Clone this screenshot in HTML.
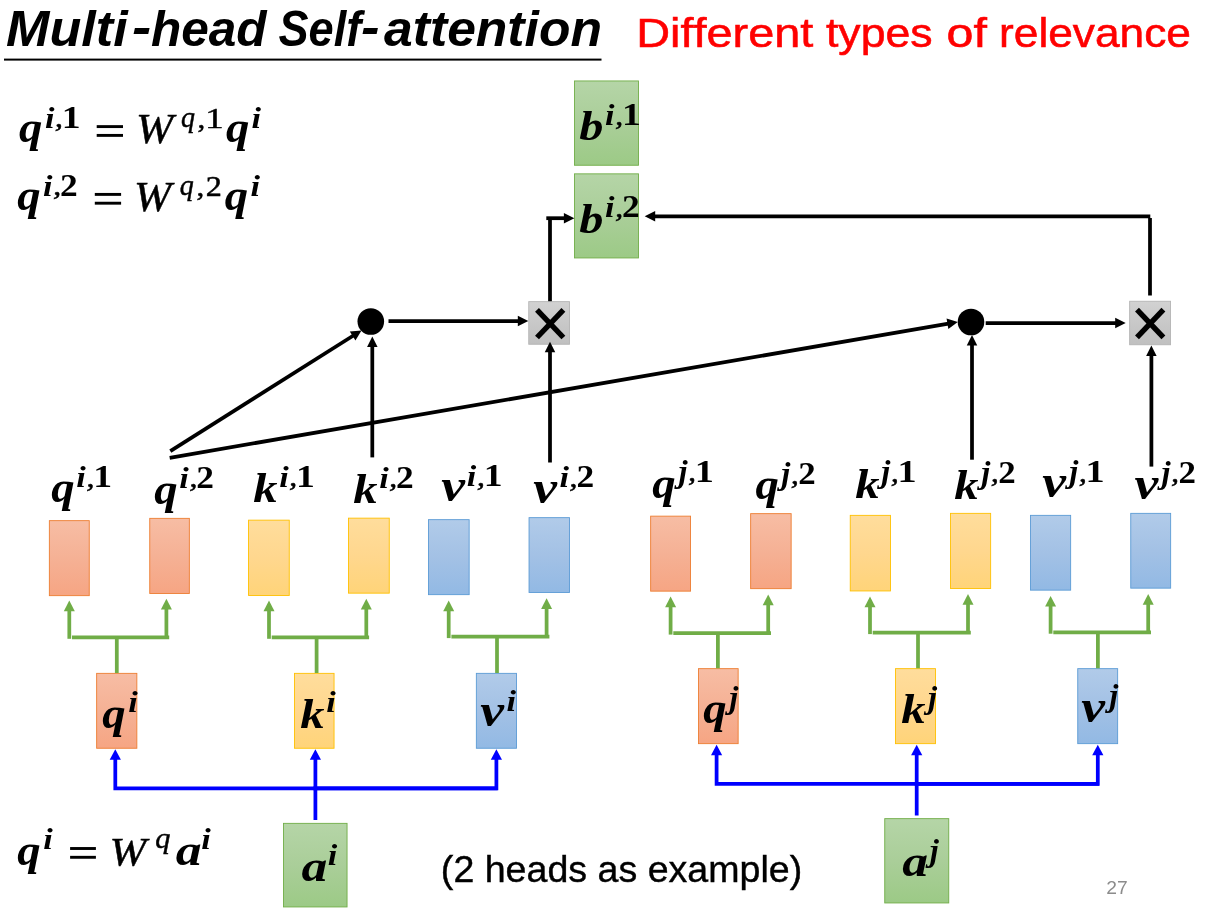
<!DOCTYPE html>
<html><head><meta charset="utf-8"><title>Multi-head Self-attention</title>
<style>html,body{margin:0;padding:0;background:#fff;}svg{display:block;will-change:transform;}text{font-kerning:none;}</style></head>
<body><svg width="1205" height="915" viewBox="0 0 1205 915">
<rect width="1205" height="915" fill="#fff"/>
<defs>
<linearGradient id="gO" x1="0" y1="0" x2="0" y2="1"><stop offset="0" stop-color="#f7bda4"/><stop offset=".5" stop-color="#f5b195"/><stop offset="1" stop-color="#f6a583"/></linearGradient>
<linearGradient id="gY" x1="0" y1="0" x2="0" y2="1"><stop offset="0" stop-color="#ffdd9c"/><stop offset=".5" stop-color="#ffd78e"/><stop offset="1" stop-color="#ffd479"/></linearGradient>
<linearGradient id="gB" x1="0" y1="0" x2="0" y2="1"><stop offset="0" stop-color="#b1cbe9"/><stop offset=".5" stop-color="#a3c1e5"/><stop offset="1" stop-color="#92b9e4"/></linearGradient>
<linearGradient id="gG" x1="0" y1="0" x2="0" y2="1"><stop offset="0" stop-color="#b5d5a7"/><stop offset=".5" stop-color="#aace99"/><stop offset="1" stop-color="#9cca86"/></linearGradient>
<linearGradient id="gS" x1="0" y1="0" x2="0" y2="1"><stop offset="0" stop-color="#d2d2d2"/><stop offset=".5" stop-color="#c8c8c8"/><stop offset="1" stop-color="#c0c0c0"/></linearGradient>
</defs>
<text transform="translate(6.08,45.80) scale(1.0555,1)" font-family="Liberation Sans" font-size="49.40" font-weight="bold" font-style="italic" fill="#000" style="white-space:pre">Multi</text>
<text transform="translate(132.12,43.70) scale(1.1699,1)" font-family="Liberation Sans" font-size="49.40" font-weight="bold" font-style="italic" fill="#000" style="white-space:pre">-</text>
<text transform="translate(150.95,45.80) scale(1.0035,1)" font-family="Liberation Sans" font-size="49.40" font-weight="bold" font-style="italic" fill="#000" style="white-space:pre">head</text>
<text transform="translate(278.45,45.80) scale(0.9137,1)" font-family="Liberation Sans" font-size="49.40" font-weight="bold" font-style="italic" fill="#000" style="white-space:pre">Self</text>
<text transform="translate(361.08,43.70) scale(1.1260,1)" font-family="Liberation Sans" font-size="49.40" font-weight="bold" font-style="italic" fill="#000" style="white-space:pre">-</text>
<text transform="translate(384.05,45.80) scale(1.0449,1)" font-family="Liberation Sans" font-size="49.40" font-weight="bold" font-style="italic" fill="#000" style="white-space:pre">attention</text>
<rect x="4" y="58.6" width="597.5" height="2" fill="#000"/>
<text transform="translate(636.15,46.60) scale(1.1491,1)" font-family="Liberation Sans" font-size="40.80" fill="#ff0000" stroke="#ff0000" stroke-width="0.55" style="white-space:pre">Different</text>
<text transform="translate(825.92,46.60) scale(1.0940,1)" font-family="Liberation Sans" font-size="40.80" fill="#ff0000" stroke="#ff0000" stroke-width="0.55" style="white-space:pre">types</text>
<text transform="translate(946.57,46.60) scale(1.1862,1)" font-family="Liberation Sans" font-size="40.80" fill="#ff0000" stroke="#ff0000" stroke-width="0.55" style="white-space:pre">of</text>
<text transform="translate(999.06,46.60) scale(1.0848,1)" font-family="Liberation Sans" font-size="40.80" fill="#ff0000" stroke="#ff0000" stroke-width="0.55" style="white-space:pre">relevance</text>
<rect x="574.45" y="80.95" width="64.10" height="84.30" fill="url(#gG)" stroke="#70ad47" stroke-width="0.9"/>
<rect x="574.45" y="173.85" width="64.10" height="84.10" fill="url(#gG)" stroke="#70ad47" stroke-width="0.9"/>
<rect x="528.75" y="301.65" width="40.80" height="42.60" fill="url(#gS)" stroke="#b4b4b4" stroke-width="0.9"/>
<rect x="1129.65" y="301.25" width="40.90" height="43.50" fill="url(#gS)" stroke="#b4b4b4" stroke-width="0.9"/>
<rect x="49.35" y="520.65" width="39.90" height="75.00" fill="url(#gO)" stroke="#ed7d31" stroke-width="0.9"/>
<rect x="149.75" y="518.35" width="39.60" height="75.10" fill="url(#gO)" stroke="#ed7d31" stroke-width="0.9"/>
<rect x="248.55" y="520.15" width="40.70" height="75.30" fill="url(#gY)" stroke="#ffc000" stroke-width="0.9"/>
<rect x="348.55" y="518.15" width="40.70" height="75.00" fill="url(#gY)" stroke="#ffc000" stroke-width="0.9"/>
<rect x="428.45" y="519.65" width="40.70" height="75.00" fill="url(#gB)" stroke="#5b9bd5" stroke-width="0.9"/>
<rect x="529.05" y="517.65" width="40.50" height="74.80" fill="url(#gB)" stroke="#5b9bd5" stroke-width="0.9"/>
<rect x="650.65" y="516.15" width="39.90" height="75.00" fill="url(#gO)" stroke="#ed7d31" stroke-width="0.9"/>
<rect x="750.65" y="513.65" width="40.50" height="75.00" fill="url(#gO)" stroke="#ed7d31" stroke-width="0.9"/>
<rect x="850.25" y="515.35" width="40.20" height="75.60" fill="url(#gY)" stroke="#ffc000" stroke-width="0.9"/>
<rect x="950.55" y="513.35" width="40.10" height="75.10" fill="url(#gY)" stroke="#ffc000" stroke-width="0.9"/>
<rect x="1030.45" y="515.35" width="40.20" height="74.80" fill="url(#gB)" stroke="#5b9bd5" stroke-width="0.9"/>
<rect x="1130.75" y="513.35" width="39.90" height="74.80" fill="url(#gB)" stroke="#5b9bd5" stroke-width="0.9"/>
<rect x="96.65" y="673.35" width="40.20" height="74.90" fill="url(#gO)" stroke="#ed7d31" stroke-width="0.9"/>
<rect x="294.45" y="673.35" width="39.60" height="74.90" fill="url(#gY)" stroke="#ffc000" stroke-width="0.9"/>
<rect x="476.35" y="673.35" width="40.20" height="74.90" fill="url(#gB)" stroke="#5b9bd5" stroke-width="0.9"/>
<rect x="698.55" y="668.65" width="39.60" height="75.00" fill="url(#gO)" stroke="#ed7d31" stroke-width="0.9"/>
<rect x="895.45" y="668.65" width="40.00" height="75.00" fill="url(#gY)" stroke="#ffc000" stroke-width="0.9"/>
<rect x="1077.75" y="668.65" width="39.90" height="75.00" fill="url(#gB)" stroke="#5b9bd5" stroke-width="0.9"/>
<rect x="283.45" y="823.35" width="63.60" height="83.60" fill="url(#gG)" stroke="#70ad47" stroke-width="0.9"/>
<rect x="884.75" y="818.65" width="64.00" height="84.30" fill="url(#gG)" stroke="#70ad47" stroke-width="0.9"/>
<path d="M69.30,638.80 L69.30,610.30" fill="none" stroke="#70ad47" stroke-width="3.75" stroke-linecap="butt" stroke-linejoin="miter"/>
<polygon points="69.30,600.60 74.80,611.30 63.80,611.30" fill="#70ad47"/>
<path d="M166.40,636.40 L166.40,608.50" fill="none" stroke="#70ad47" stroke-width="3.75" stroke-linecap="butt" stroke-linejoin="miter"/>
<polygon points="166.40,598.80 171.90,609.50 160.90,609.50" fill="#70ad47"/>
<path d="M72.00,637.40 L169.20,637.40" fill="none" stroke="#70ad47" stroke-width="3.75" stroke-linecap="butt" stroke-linejoin="miter"/>
<path d="M116.80,637.40 L116.80,673.00" fill="none" stroke="#70ad47" stroke-width="3.75" stroke-linecap="butt" stroke-linejoin="miter"/>
<path d="M269.00,638.80 L269.00,610.30" fill="none" stroke="#70ad47" stroke-width="3.75" stroke-linecap="butt" stroke-linejoin="miter"/>
<polygon points="269.00,600.60 274.50,611.30 263.50,611.30" fill="#70ad47"/>
<path d="M366.30,636.40 L366.30,608.50" fill="none" stroke="#70ad47" stroke-width="3.75" stroke-linecap="butt" stroke-linejoin="miter"/>
<polygon points="366.30,598.80 371.80,609.50 360.80,609.50" fill="#70ad47"/>
<path d="M271.70,637.40 L369.10,637.40" fill="none" stroke="#70ad47" stroke-width="3.75" stroke-linecap="butt" stroke-linejoin="miter"/>
<path d="M316.60,637.40 L316.60,673.00" fill="none" stroke="#70ad47" stroke-width="3.75" stroke-linecap="butt" stroke-linejoin="miter"/>
<path d="M448.70,638.10 L448.70,610.30" fill="none" stroke="#70ad47" stroke-width="3.75" stroke-linecap="butt" stroke-linejoin="miter"/>
<polygon points="448.70,600.60 454.20,611.30 443.20,611.30" fill="#70ad47"/>
<path d="M546.60,635.70 L546.60,608.00" fill="none" stroke="#70ad47" stroke-width="3.75" stroke-linecap="butt" stroke-linejoin="miter"/>
<polygon points="546.60,598.30 552.10,609.00 541.10,609.00" fill="#70ad47"/>
<path d="M451.40,636.70 L549.40,636.70" fill="none" stroke="#70ad47" stroke-width="3.75" stroke-linecap="butt" stroke-linejoin="miter"/>
<path d="M497.00,636.70 L497.00,673.00" fill="none" stroke="#70ad47" stroke-width="3.75" stroke-linecap="butt" stroke-linejoin="miter"/>
<path d="M670.60,634.60 L670.60,606.30" fill="none" stroke="#70ad47" stroke-width="3.75" stroke-linecap="butt" stroke-linejoin="miter"/>
<polygon points="670.60,596.60 676.10,607.30 665.10,607.30" fill="#70ad47"/>
<path d="M768.20,632.20 L768.20,604.30" fill="none" stroke="#70ad47" stroke-width="3.75" stroke-linecap="butt" stroke-linejoin="miter"/>
<polygon points="768.20,594.60 773.70,605.30 762.70,605.30" fill="#70ad47"/>
<path d="M673.30,633.20 L771.00,633.20" fill="none" stroke="#70ad47" stroke-width="3.75" stroke-linecap="butt" stroke-linejoin="miter"/>
<path d="M717.90,633.20 L717.90,668.30" fill="none" stroke="#70ad47" stroke-width="3.75" stroke-linecap="butt" stroke-linejoin="miter"/>
<path d="M870.00,634.10 L870.00,606.30" fill="none" stroke="#70ad47" stroke-width="3.75" stroke-linecap="butt" stroke-linejoin="miter"/>
<polygon points="870.00,596.60 875.50,607.30 864.50,607.30" fill="#70ad47"/>
<path d="M968.00,631.70 L968.00,603.80" fill="none" stroke="#70ad47" stroke-width="3.75" stroke-linecap="butt" stroke-linejoin="miter"/>
<polygon points="968.00,594.10 973.50,604.80 962.50,604.80" fill="#70ad47"/>
<path d="M872.70,632.70 L970.80,632.70" fill="none" stroke="#70ad47" stroke-width="3.75" stroke-linecap="butt" stroke-linejoin="miter"/>
<path d="M918.00,632.70 L918.00,668.30" fill="none" stroke="#70ad47" stroke-width="3.75" stroke-linecap="butt" stroke-linejoin="miter"/>
<path d="M1050.60,633.70 L1050.60,605.60" fill="none" stroke="#70ad47" stroke-width="3.75" stroke-linecap="butt" stroke-linejoin="miter"/>
<polygon points="1050.60,595.90 1056.10,606.60 1045.10,606.60" fill="#70ad47"/>
<path d="M1148.20,631.30 L1148.20,603.80" fill="none" stroke="#70ad47" stroke-width="3.75" stroke-linecap="butt" stroke-linejoin="miter"/>
<polygon points="1148.20,594.10 1153.70,604.80 1142.70,604.80" fill="#70ad47"/>
<path d="M1053.30,632.30 L1151.00,632.30" fill="none" stroke="#70ad47" stroke-width="3.75" stroke-linecap="butt" stroke-linejoin="miter"/>
<path d="M1097.90,632.30 L1097.90,668.30" fill="none" stroke="#70ad47" stroke-width="3.75" stroke-linecap="butt" stroke-linejoin="miter"/>
<path d="M315.40,820.00 L315.40,758.80" fill="none" stroke="#0000ff" stroke-width="3.75" stroke-linecap="butt" stroke-linejoin="miter"/>
<polygon points="315.40,749.30 321.00,759.80 309.80,759.80" fill="#0000ff"/>
<path d="M497.50,788.40 L115.30,788.40 L115.30,758.80" fill="none" stroke="#0000ff" stroke-width="3.75" stroke-linecap="butt" stroke-linejoin="miter"/>
<polygon points="115.30,749.30 120.90,759.80 109.70,759.80" fill="#0000ff"/>
<path d="M313.40,788.40 L496.40,788.40 L496.40,758.80" fill="none" stroke="#0000ff" stroke-width="3.75" stroke-linecap="butt" stroke-linejoin="miter"/>
<polygon points="496.40,749.30 502.00,759.80 490.80,759.80" fill="#0000ff"/>
<path d="M916.70,815.50 L916.70,754.20" fill="none" stroke="#0000ff" stroke-width="3.75" stroke-linecap="butt" stroke-linejoin="miter"/>
<polygon points="916.70,744.70 922.30,755.20 911.10,755.20" fill="#0000ff"/>
<path d="M1099.00,783.80 L716.60,783.80 L716.60,754.20" fill="none" stroke="#0000ff" stroke-width="3.75" stroke-linecap="butt" stroke-linejoin="miter"/>
<polygon points="716.60,744.70 722.20,755.20 711.00,755.20" fill="#0000ff"/>
<path d="M914.70,783.80 L1097.80,783.80 L1097.80,754.20" fill="none" stroke="#0000ff" stroke-width="3.75" stroke-linecap="butt" stroke-linejoin="miter"/>
<polygon points="1097.80,744.70 1103.40,755.20 1092.20,755.20" fill="#0000ff"/>
<circle cx="370.8" cy="321.5" r="13.3" fill="#000"/><circle cx="971" cy="322" r="13.3" fill="#000"/>
<path d="M388.50,321.00 L518.80,321.00" fill="none" stroke="#000" stroke-width="3.75" stroke-linecap="butt" stroke-linejoin="miter"/>
<polygon points="528.30,321.00 517.80,326.25 517.80,315.75" fill="#000"/>
<path d="M985.70,323.00 L1116.20,323.00" fill="none" stroke="#000" stroke-width="3.75" stroke-linecap="butt" stroke-linejoin="miter"/>
<polygon points="1125.70,323.00 1115.20,328.25 1115.20,317.75" fill="#000"/>
<path d="M372.30,457.40 L372.30,345.90" fill="none" stroke="#000" stroke-width="3.75" stroke-linecap="butt" stroke-linejoin="miter"/>
<polygon points="372.30,336.40 377.55,346.90 367.05,346.90" fill="#000"/>
<path d="M972.00,459.70 L972.00,344.50" fill="none" stroke="#000" stroke-width="3.75" stroke-linecap="butt" stroke-linejoin="miter"/>
<polygon points="972.00,335.00 977.25,345.50 966.75,345.50" fill="#000"/>
<path d="M550.00,462.50 L550.00,351.30" fill="none" stroke="#000" stroke-width="3.75" stroke-linecap="butt" stroke-linejoin="miter"/>
<polygon points="550.00,341.80 555.25,352.30 544.75,352.30" fill="#000"/>
<path d="M1151.40,466.60 L1151.40,355.10" fill="none" stroke="#000" stroke-width="3.75" stroke-linecap="butt" stroke-linejoin="miter"/>
<polygon points="1151.40,345.60 1156.65,356.10 1146.15,356.10" fill="#000"/>
<path d="M170.30,451.20 L353.47,335.47" fill="none" stroke="#000" stroke-width="3.75" stroke-linecap="butt" stroke-linejoin="miter"/>
<polygon points="361.50,330.40 355.43,340.45 349.82,331.57" fill="#000"/>
<path d="M169.70,457.80 L948.44,323.61" fill="none" stroke="#000" stroke-width="3.75" stroke-linecap="butt" stroke-linejoin="miter"/>
<polygon points="957.80,322.00 948.34,328.96 946.56,318.61" fill="#000"/>
<path d="M550.00,301.20 L550.00,218.20" fill="none" stroke="#000" stroke-width="3.75" stroke-linecap="butt" stroke-linejoin="miter"/>
<path d="M546.30,218.20 L564.90,218.20" fill="none" stroke="#000" stroke-width="3.75" stroke-linecap="butt" stroke-linejoin="miter"/>
<polygon points="574.40,218.20 563.90,223.45 563.90,212.95" fill="#000"/>
<path d="M1150.00,295.50 L1150.00,218.00" fill="none" stroke="#000" stroke-width="3.75" stroke-linecap="butt" stroke-linejoin="miter"/>
<path d="M1150.30,216.30 L654.20,216.30" fill="none" stroke="#000" stroke-width="3.75" stroke-linecap="butt" stroke-linejoin="miter"/>
<polygon points="644.70,216.30 655.20,211.05 655.20,221.55" fill="#000"/>
<path d="M537.00,309.90 L563.40,337.50" fill="none" stroke="#000" stroke-width="5.4" stroke-linecap="butt" stroke-linejoin="miter"/>
<path d="M563.40,309.90 L537.00,337.50" fill="none" stroke="#000" stroke-width="5.4" stroke-linecap="butt" stroke-linejoin="miter"/>
<path d="M1137.00,309.70 L1163.40,337.30" fill="none" stroke="#000" stroke-width="5.4" stroke-linecap="butt" stroke-linejoin="miter"/>
<path d="M1163.40,309.70 L1137.00,337.30" fill="none" stroke="#000" stroke-width="5.4" stroke-linecap="butt" stroke-linejoin="miter"/>
<text transform="translate(51.31,501.85) scale(1.0420,1)" font-family="Liberation Serif" font-size="44.88" font-weight="bold" font-style="italic" fill="#000">q</text>
<text transform="translate(76.33,487.00) scale(1.1322,1)" font-family="Liberation Serif" font-size="30.27" font-weight="bold" font-style="italic" fill="#000">i</text>
<text transform="translate(86.20,486.59) scale(1.1828,1)" font-family="Liberation Serif" font-size="28.03" font-style="italic" fill="#000" stroke="#000" stroke-width="0.50">,</text>
<text transform="translate(93.18,487.00) scale(1.1869,1)" font-family="Liberation Serif" font-size="31.81" font-weight="bold" fill="#000">1</text>
<text transform="translate(154.21,503.95) scale(1.0420,1)" font-family="Liberation Serif" font-size="44.88" font-weight="bold" font-style="italic" fill="#000">q</text>
<text transform="translate(179.33,487.90) scale(1.1322,1)" font-family="Liberation Serif" font-size="30.27" font-weight="bold" font-style="italic" fill="#000">i</text>
<text transform="translate(189.20,487.49) scale(1.1828,1)" font-family="Liberation Serif" font-size="28.03" font-style="italic" fill="#000" stroke="#000" stroke-width="0.50">,</text>
<text transform="translate(196.31,487.90) scale(1.1167,1)" font-family="Liberation Serif" font-size="31.72" font-weight="bold" fill="#000">2</text>
<text transform="translate(253.14,502.20) scale(1.1251,1)" font-family="Liberation Serif" font-size="43.09" font-weight="bold" font-style="italic" fill="#000">k</text>
<text transform="translate(279.13,486.90) scale(1.1322,1)" font-family="Liberation Serif" font-size="30.27" font-weight="bold" font-style="italic" fill="#000">i</text>
<text transform="translate(289.00,486.49) scale(1.1828,1)" font-family="Liberation Serif" font-size="28.03" font-style="italic" fill="#000" stroke="#000" stroke-width="0.50">,</text>
<text transform="translate(295.98,486.90) scale(1.1869,1)" font-family="Liberation Serif" font-size="31.81" font-weight="bold" fill="#000">1</text>
<text transform="translate(353.14,503.20) scale(1.1251,1)" font-family="Liberation Serif" font-size="43.09" font-weight="bold" font-style="italic" fill="#000">k</text>
<text transform="translate(379.13,487.90) scale(1.1322,1)" font-family="Liberation Serif" font-size="30.27" font-weight="bold" font-style="italic" fill="#000">i</text>
<text transform="translate(389.00,487.49) scale(1.1828,1)" font-family="Liberation Serif" font-size="28.03" font-style="italic" fill="#000" stroke="#000" stroke-width="0.50">,</text>
<text transform="translate(396.11,487.90) scale(1.1167,1)" font-family="Liberation Serif" font-size="31.72" font-weight="bold" fill="#000">2</text>
<text transform="translate(441.30,500.85) scale(1.1667,1)" font-family="Liberation Serif" font-size="45.82" font-weight="bold" font-style="italic" fill="#000">v</text>
<text transform="translate(466.83,486.00) scale(1.1322,1)" font-family="Liberation Serif" font-size="30.27" font-weight="bold" font-style="italic" fill="#000">i</text>
<text transform="translate(476.70,485.59) scale(1.1828,1)" font-family="Liberation Serif" font-size="28.03" font-style="italic" fill="#000" stroke="#000" stroke-width="0.50">,</text>
<text transform="translate(483.68,486.00) scale(1.1869,1)" font-family="Liberation Serif" font-size="31.81" font-weight="bold" fill="#000">1</text>
<text transform="translate(533.30,502.95) scale(1.1667,1)" font-family="Liberation Serif" font-size="45.82" font-weight="bold" font-style="italic" fill="#000">v</text>
<text transform="translate(559.43,487.00) scale(1.1322,1)" font-family="Liberation Serif" font-size="30.27" font-weight="bold" font-style="italic" fill="#000">i</text>
<text transform="translate(569.30,486.59) scale(1.1828,1)" font-family="Liberation Serif" font-size="28.03" font-style="italic" fill="#000" stroke="#000" stroke-width="0.50">,</text>
<text transform="translate(576.41,487.00) scale(1.1167,1)" font-family="Liberation Serif" font-size="31.72" font-weight="bold" fill="#000">2</text>
<text transform="translate(652.31,497.75) scale(1.0420,1)" font-family="Liberation Serif" font-size="44.88" font-weight="bold" font-style="italic" fill="#000">q</text>
<text transform="translate(678.46,482.27) scale(1.0618,1)" font-family="Liberation Serif" font-size="30.66" font-weight="bold" font-style="italic" fill="#000">j</text>
<text transform="translate(687.92,481.49) scale(1.1596,1)" font-family="Liberation Serif" font-size="28.03" font-style="italic" fill="#000" stroke="#000" stroke-width="0.50">,</text>
<text transform="translate(694.63,481.90) scale(1.2039,1)" font-family="Liberation Serif" font-size="31.81" font-weight="bold" fill="#000">1</text>
<text transform="translate(755.51,498.95) scale(1.0420,1)" font-family="Liberation Serif" font-size="44.88" font-weight="bold" font-style="italic" fill="#000">q</text>
<text transform="translate(781.36,484.37) scale(1.0618,1)" font-family="Liberation Serif" font-size="30.66" font-weight="bold" font-style="italic" fill="#000">j</text>
<text transform="translate(790.82,483.59) scale(1.1596,1)" font-family="Liberation Serif" font-size="28.03" font-style="italic" fill="#000" stroke="#000" stroke-width="0.50">,</text>
<text transform="translate(798.33,484.00) scale(1.1015,1)" font-family="Liberation Serif" font-size="31.72" font-weight="bold" fill="#000">2</text>
<text transform="translate(855.14,498.20) scale(1.1251,1)" font-family="Liberation Serif" font-size="43.09" font-weight="bold" font-style="italic" fill="#000">k</text>
<text transform="translate(881.36,482.37) scale(1.0618,1)" font-family="Liberation Serif" font-size="30.66" font-weight="bold" font-style="italic" fill="#000">j</text>
<text transform="translate(890.82,481.59) scale(1.1596,1)" font-family="Liberation Serif" font-size="28.03" font-style="italic" fill="#000" stroke="#000" stroke-width="0.50">,</text>
<text transform="translate(897.53,482.00) scale(1.2039,1)" font-family="Liberation Serif" font-size="31.81" font-weight="bold" fill="#000">1</text>
<text transform="translate(954.24,499.30) scale(1.1251,1)" font-family="Liberation Serif" font-size="43.09" font-weight="bold" font-style="italic" fill="#000">k</text>
<text transform="translate(981.36,483.27) scale(1.0618,1)" font-family="Liberation Serif" font-size="30.66" font-weight="bold" font-style="italic" fill="#000">j</text>
<text transform="translate(990.82,482.49) scale(1.1596,1)" font-family="Liberation Serif" font-size="28.03" font-style="italic" fill="#000" stroke="#000" stroke-width="0.50">,</text>
<text transform="translate(998.33,482.90) scale(1.1015,1)" font-family="Liberation Serif" font-size="31.72" font-weight="bold" fill="#000">2</text>
<text transform="translate(1042.20,496.95) scale(1.1667,1)" font-family="Liberation Serif" font-size="45.82" font-weight="bold" font-style="italic" fill="#000">v</text>
<text transform="translate(1069.26,482.37) scale(1.0618,1)" font-family="Liberation Serif" font-size="30.66" font-weight="bold" font-style="italic" fill="#000">j</text>
<text transform="translate(1078.72,481.59) scale(1.1596,1)" font-family="Liberation Serif" font-size="28.03" font-style="italic" fill="#000" stroke="#000" stroke-width="0.50">,</text>
<text transform="translate(1085.43,482.00) scale(1.2039,1)" font-family="Liberation Serif" font-size="31.81" font-weight="bold" fill="#000">1</text>
<text transform="translate(1134.40,498.65) scale(1.1667,1)" font-family="Liberation Serif" font-size="45.82" font-weight="bold" font-style="italic" fill="#000">v</text>
<text transform="translate(1161.46,483.17) scale(1.0618,1)" font-family="Liberation Serif" font-size="30.66" font-weight="bold" font-style="italic" fill="#000">j</text>
<text transform="translate(1170.92,482.39) scale(1.1596,1)" font-family="Liberation Serif" font-size="28.03" font-style="italic" fill="#000" stroke="#000" stroke-width="0.50">,</text>
<text transform="translate(1178.43,482.80) scale(1.1015,1)" font-family="Liberation Serif" font-size="31.72" font-weight="bold" fill="#000">2</text>
<text transform="translate(102.31,727.85) scale(1.0420,1)" font-family="Liberation Serif" font-size="44.88" font-weight="bold" font-style="italic" fill="#000">q</text>
<text transform="translate(128.23,712.00) scale(1.1322,1)" font-family="Liberation Serif" font-size="30.27" font-weight="bold" font-style="italic" fill="#000">i</text>
<text transform="translate(300.14,728.20) scale(1.1251,1)" font-family="Liberation Serif" font-size="43.09" font-weight="bold" font-style="italic" fill="#000">k</text>
<text transform="translate(326.33,712.00) scale(1.1322,1)" font-family="Liberation Serif" font-size="30.27" font-weight="bold" font-style="italic" fill="#000">i</text>
<text transform="translate(480.30,725.85) scale(1.1667,1)" font-family="Liberation Serif" font-size="45.82" font-weight="bold" font-style="italic" fill="#000">v</text>
<text transform="translate(506.53,710.80) scale(1.1322,1)" font-family="Liberation Serif" font-size="30.27" font-weight="bold" font-style="italic" fill="#000">i</text>
<text transform="translate(301.39,881.04) scale(1.1455,1)" font-family="Liberation Serif" font-size="45.12" font-weight="bold" font-style="italic" fill="#000">a</text>
<text transform="translate(327.63,865.00) scale(1.1322,1)" font-family="Liberation Serif" font-size="30.27" font-weight="bold" font-style="italic" fill="#000">i</text>
<text transform="translate(703.21,722.85) scale(1.0420,1)" font-family="Liberation Serif" font-size="44.88" font-weight="bold" font-style="italic" fill="#000">q</text>
<text transform="translate(729.36,708.07) scale(1.0618,1)" font-family="Liberation Serif" font-size="30.66" font-weight="bold" font-style="italic" fill="#000">j</text>
<text transform="translate(901.14,723.20) scale(1.1251,1)" font-family="Liberation Serif" font-size="43.09" font-weight="bold" font-style="italic" fill="#000">k</text>
<text transform="translate(928.06,708.07) scale(1.0618,1)" font-family="Liberation Serif" font-size="30.66" font-weight="bold" font-style="italic" fill="#000">j</text>
<text transform="translate(1081.30,721.75) scale(1.1667,1)" font-family="Liberation Serif" font-size="45.82" font-weight="bold" font-style="italic" fill="#000">v</text>
<text transform="translate(1109.26,706.17) scale(1.0618,1)" font-family="Liberation Serif" font-size="30.66" font-weight="bold" font-style="italic" fill="#000">j</text>
<text transform="translate(902.19,876.04) scale(1.1455,1)" font-family="Liberation Serif" font-size="45.12" font-weight="bold" font-style="italic" fill="#000">a</text>
<text transform="translate(929.66,861.37) scale(1.0618,1)" font-family="Liberation Serif" font-size="30.66" font-weight="bold" font-style="italic" fill="#000">j</text>
<text transform="translate(579.26,139.92) scale(1.1290,1)" font-family="Liberation Serif" font-size="42.83" font-weight="bold" font-style="italic" fill="#000">b</text>
<text transform="translate(605.03,125.00) scale(1.1322,1)" font-family="Liberation Serif" font-size="30.27" font-weight="bold" font-style="italic" fill="#000">i</text>
<text transform="translate(614.90,124.59) scale(1.1828,1)" font-family="Liberation Serif" font-size="28.03" font-style="italic" fill="#000" stroke="#000" stroke-width="0.50">,</text>
<text transform="translate(621.88,125.00) scale(1.1869,1)" font-family="Liberation Serif" font-size="31.81" font-weight="bold" fill="#000">1</text>
<text transform="translate(579.26,232.92) scale(1.1290,1)" font-family="Liberation Serif" font-size="42.83" font-weight="bold" font-style="italic" fill="#000">b</text>
<text transform="translate(605.03,217.30) scale(1.1322,1)" font-family="Liberation Serif" font-size="30.27" font-weight="bold" font-style="italic" fill="#000">i</text>
<text transform="translate(614.90,216.89) scale(1.1828,1)" font-family="Liberation Serif" font-size="28.03" font-style="italic" fill="#000" stroke="#000" stroke-width="0.50">,</text>
<text transform="translate(622.01,217.30) scale(1.1167,1)" font-family="Liberation Serif" font-size="31.72" font-weight="bold" fill="#000">2</text>
<text transform="translate(19.11,142.35) scale(1.0420,1)" font-family="Liberation Serif" font-size="44.88" font-weight="bold" font-style="italic" fill="#000">q</text>
<text transform="translate(44.93,127.80) scale(1.1322,1)" font-family="Liberation Serif" font-size="30.27" font-weight="bold" font-style="italic" fill="#000">i</text>
<text transform="translate(54.80,127.39) scale(1.1828,1)" font-family="Liberation Serif" font-size="28.03" font-style="italic" fill="#000" stroke="#000" stroke-width="0.50">,</text>
<text transform="translate(61.78,127.80) scale(1.1869,1)" font-family="Liberation Serif" font-size="31.81" font-weight="bold" fill="#000">1</text>
<rect x="96.70" y="125.15" width="26.30" height="2.9" fill="#000"/><rect x="96.70" y="133.95" width="26.30" height="2.9" fill="#000"/>
<text transform="translate(135.96,142.85) scale(1.0342,1)" font-family="Liberation Serif" font-size="43.14" font-style="italic" fill="#000" stroke="#000" stroke-width="0.50">W</text>
<text transform="translate(180.97,127.12) scale(0.9333,1)" font-family="Liberation Serif" font-size="29.97" font-style="italic" fill="#000" stroke="#000" stroke-width="0.50">q</text>
<text transform="translate(197.52,127.93) scale(1.1666,1)" font-family="Liberation Serif" font-size="26.48" fill="#000" stroke="#000" stroke-width="0.50">,</text>
<text transform="translate(205.18,127.80) scale(1.2095,1)" font-family="Liberation Serif" font-size="30.30" fill="#000" stroke="#000" stroke-width="0.50">1</text>
<text transform="translate(226.01,142.35) scale(1.0420,1)" font-family="Liberation Serif" font-size="44.88" font-weight="bold" font-style="italic" fill="#000">q</text>
<text transform="translate(251.53,127.80) scale(1.1322,1)" font-family="Liberation Serif" font-size="30.27" font-weight="bold" font-style="italic" fill="#000">i</text>
<text transform="translate(17.21,210.15) scale(1.0420,1)" font-family="Liberation Serif" font-size="44.88" font-weight="bold" font-style="italic" fill="#000">q</text>
<text transform="translate(43.03,195.60) scale(1.1322,1)" font-family="Liberation Serif" font-size="30.27" font-weight="bold" font-style="italic" fill="#000">i</text>
<text transform="translate(52.90,195.19) scale(1.1828,1)" font-family="Liberation Serif" font-size="28.03" font-style="italic" fill="#000" stroke="#000" stroke-width="0.50">,</text>
<text transform="translate(60.01,195.60) scale(1.1167,1)" font-family="Liberation Serif" font-size="31.72" font-weight="bold" fill="#000">2</text>
<rect x="94.80" y="192.95" width="26.30" height="2.9" fill="#000"/><rect x="94.80" y="201.75" width="26.30" height="2.9" fill="#000"/>
<text transform="translate(134.06,210.65) scale(1.0342,1)" font-family="Liberation Serif" font-size="43.14" font-style="italic" fill="#000" stroke="#000" stroke-width="0.50">W</text>
<text transform="translate(179.83,194.92) scale(0.9333,1)" font-family="Liberation Serif" font-size="29.97" font-style="italic" fill="#000" stroke="#000" stroke-width="0.50">q</text>
<text transform="translate(196.38,195.73) scale(1.1666,1)" font-family="Liberation Serif" font-size="26.48" fill="#000" stroke="#000" stroke-width="0.50">,</text>
<text transform="translate(205.85,195.60) scale(1.0653,1)" font-family="Liberation Serif" font-size="30.21" fill="#000" stroke="#000" stroke-width="0.50">2</text>
<text transform="translate(224.87,210.15) scale(1.0420,1)" font-family="Liberation Serif" font-size="44.88" font-weight="bold" font-style="italic" fill="#000">q</text>
<text transform="translate(250.39,195.60) scale(1.1322,1)" font-family="Liberation Serif" font-size="30.27" font-weight="bold" font-style="italic" fill="#000">i</text>
<text transform="translate(17.31,864.85) scale(1.0420,1)" font-family="Liberation Serif" font-size="44.88" font-weight="bold" font-style="italic" fill="#000">q</text>
<text transform="translate(43.33,849.10) scale(1.1322,1)" font-family="Liberation Serif" font-size="30.27" font-weight="bold" font-style="italic" fill="#000">i</text>
<rect x="70.10" y="847.05" width="25.80" height="2.9" fill="#000"/><rect x="70.10" y="855.85" width="25.80" height="2.9" fill="#000"/>
<text transform="translate(109.60,864.78) scale(1.0763,1)" font-family="Liberation Serif" font-size="40.90" font-style="italic" fill="#000" stroke="#000" stroke-width="0.50">W</text>
<text transform="translate(155.30,848.01) scale(1.0390,1)" font-family="Liberation Serif" font-size="29.09" font-style="italic" fill="#000" stroke="#000" stroke-width="0.50">q</text>
<text transform="translate(175.69,865.04) scale(1.1455,1)" font-family="Liberation Serif" font-size="45.12" font-weight="bold" font-style="italic" fill="#000">a</text>
<text transform="translate(201.33,849.10) scale(1.1322,1)" font-family="Liberation Serif" font-size="30.27" font-weight="bold" font-style="italic" fill="#000">i</text>
<text transform="translate(440.87,881.70) scale(1.0105,1)" font-family="Liberation Sans" font-size="37.20" fill="#000" stroke="#000" stroke-width="0.40" style="white-space:pre">(2 heads as example)</text>
<text transform="translate(1106.33,893.90) scale(1.0590,1)" font-family="Liberation Sans" font-size="18.20" fill="#8c8c8c" style="white-space:pre">27</text>
</svg></body></html>
